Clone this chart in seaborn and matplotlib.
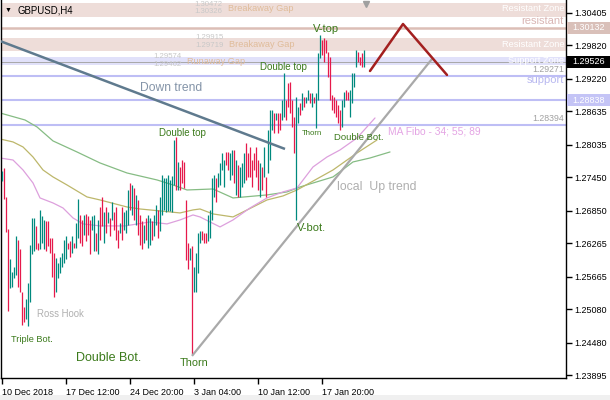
import numpy as np
import matplotlib
matplotlib.use("Agg")
import matplotlib.pyplot as plt
import matplotlib.transforms as mtransforms
from matplotlib.patches import Rectangle
import seaborn as sns

# GBPUSD H4 bars (high, low, 1 = up bar)
highs = [
    1.2757, 1.2761, 1.2710, 1.2653, 1.2598, 1.2576, 1.2585, 1.2639, 1.2633, 1.2616,
    1.2539, 1.2512, 1.2526, 1.2556, 1.2624, 1.2673, 1.2673, 1.2657, 1.2628, 1.2687,
    1.2675, 1.2669, 1.2666, 1.2666, 1.2637, 1.2637, 1.2610, 1.2601, 1.2592, 1.2603,
    1.2610, 1.2633, 1.2639, 1.2628, 1.2630, 1.2639, 1.2628, 1.2664, 1.2707, 1.2678,
    1.2669, 1.2678, 1.2680, 1.2675, 1.2669, 1.2675, 1.2678, 1.2646, 1.2669, 1.2692,
    1.2709, 1.2682, 1.2692, 1.2682, 1.2673, 1.2700, 1.2682, 1.2692, 1.2651, 1.2664,
    1.2692, 1.2682, 1.2687, 1.2723, 1.2735, 1.2732, 1.2726, 1.2714, 1.2705, 1.2678,
    1.2666, 1.2660, 1.2673, 1.2678, 1.2673, 1.2666, 1.2678, 1.2696, 1.2687, 1.2709,
    1.2750, 1.2744, 1.2744, 1.2750, 1.2741, 1.2748, 1.2812, 1.2818, 1.2773, 1.2764,
    1.2777, 1.2773, 1.2705, 1.2628, 1.2619, 1.2621, 1.2585, 1.2610, 1.2646, 1.2648,
    1.2648, 1.2646, 1.2646, 1.2678, 1.2687, 1.2744, 1.2750, 1.2744, 1.2753, 1.2771,
    1.2789, 1.2777, 1.2791, 1.2791, 1.2789, 1.2794, 1.2794, 1.2777, 1.2768, 1.2764,
    1.2771, 1.2789, 1.2807, 1.2789, 1.2800, 1.2777, 1.2789, 1.2800, 1.2777, 1.2771,
    1.2764, 1.2800, 1.2746, 1.2830, 1.2866, 1.2866, 1.2861, 1.2861, 1.2861, 1.2861,
    1.2884, 1.2932, 1.2884, 1.2914, 1.2916, 1.2884, 1.2854, 1.2889, 1.2871, 1.2879,
    1.2896, 1.2889, 1.2889, 1.2902, 1.2896, 1.2896, 1.2889, 1.2896, 1.2968, 1.3000,
    1.2991, 1.2995, 1.2991, 1.2970, 1.2961, 1.2893, 1.2889, 1.2884, 1.2875, 1.2866,
    1.2884, 1.2898, 1.2902, 1.2898, 1.2902, 1.2932, 1.2932, 1.2974, 1.2970, 1.2961,
    1.2968, 1.2974,
]
lows = [
    1.2739, 1.2707, 1.2647, 1.2506, 1.2546, 1.2549, 1.2564, 1.2569, 1.2549, 1.2539,
    1.2481, 1.2485, 1.2490, 1.2478, 1.2521, 1.2607, 1.2612, 1.2616, 1.2614, 1.2616,
    1.2628, 1.2616, 1.2612, 1.2621, 1.2610, 1.2567, 1.2531, 1.2539, 1.2565, 1.2574,
    1.2585, 1.2592, 1.2598, 1.2616, 1.2603, 1.2610, 1.2619, 1.2619, 1.2637, 1.2628,
    1.2621, 1.2642, 1.2630, 1.2642, 1.2607, 1.2651, 1.2612, 1.2612, 1.2607, 1.2633,
    1.2657, 1.2628, 1.2646, 1.2664, 1.2639, 1.2669, 1.2651, 1.2633, 1.2619, 1.2646,
    1.2633, 1.2651, 1.2646, 1.2660, 1.2687, 1.2678, 1.2669, 1.2660, 1.2642, 1.2624,
    1.2616, 1.2628, 1.2633, 1.2619, 1.2624, 1.2633, 1.2639, 1.2660, 1.2637, 1.2648,
    1.2678, 1.2687, 1.2682, 1.2684, 1.2684, 1.2682, 1.2732, 1.2723, 1.2723, 1.2723,
    1.2735, 1.2726, 1.2597, 1.2580, 1.2597, 1.2428, 1.2539, 1.2539, 1.2574, 1.2628,
    1.2633, 1.2628, 1.2628, 1.2630, 1.2637, 1.2669, 1.2710, 1.2700, 1.2728, 1.2732,
    1.2759, 1.2728, 1.2768, 1.2759, 1.2741, 1.2750, 1.2735, 1.2714, 1.2710, 1.2710,
    1.2728, 1.2735, 1.2741, 1.2746, 1.2746, 1.2728, 1.2759, 1.2746, 1.2723, 1.2710,
    1.2723, 1.2746, 1.2710, 1.2753, 1.2777, 1.2830, 1.2825, 1.2848, 1.2825, 1.2830,
    1.2848, 1.2854, 1.2848, 1.2871, 1.2861, 1.2836, 1.2789, 1.2669, 1.2843, 1.2857,
    1.2866, 1.2871, 1.2879, 1.2884, 1.2879, 1.2871, 1.2879, 1.2834, 1.2884, 1.2959,
    1.2965, 1.2952, 1.2968, 1.2925, 1.2884, 1.2866, 1.2861, 1.2854, 1.2843, 1.2830,
    1.2836, 1.2871, 1.2884, 1.2884, 1.2854, 1.2879, 1.2907, 1.2943, 1.2952, 1.2947,
    1.2943, 1.2943,
]
up_bar = [
    1, 0, 0, 0, 1, 1, 1, 1, 0, 0, 0, 0, 1, 1, 1, 1, 1, 0, 0, 1,
    1, 1, 0, 0, 0, 0, 0, 1, 1, 1, 1, 1, 1, 0, 0, 1, 0, 1, 1, 0,
    0, 1, 0, 0, 0, 1, 1, 0, 1, 0, 0, 1, 0, 1, 0, 1, 0, 0, 0, 1,
    0, 1, 1, 1, 0, 1, 0, 1, 0, 0, 0, 1, 0, 1, 1, 0, 1, 1, 0, 1,
    1, 1, 1, 1, 1, 1, 1, 0, 1, 0, 0, 0, 0, 0, 1, 0, 1, 1, 1, 1,
    0, 0, 0, 1, 1, 1, 1, 0, 1, 1, 1, 1, 0, 0, 1, 1, 0, 1, 0, 1,
    1, 1, 0, 0, 0, 0, 0, 0, 0, 1, 0, 1, 0, 1, 1, 1, 0, 1, 0, 0,
    1, 1, 0, 0, 0, 0, 0, 1, 1, 0, 1, 0, 1, 1, 0, 1, 0, 1, 1, 1,
    0, 0, 0, 0, 0, 0, 0, 0, 0, 0, 1, 1, 0, 0, 1, 1, 1, 1, 0, 0,
    0, 1,
]

x_ticks = [0, 32, 64, 96, 128, 160]
x_labels = ["10 Dec 2018", "17 Dec 12:00", "24 Dec 20:00", "3 Jan 04:00",
            "10 Jan 12:00", "17 Jan 20:00"]
y_ticks = [1.30405, 1.29820, 1.29220, 1.28635, 1.28035, 1.27450,
           1.26850, 1.26265, 1.25665, 1.25080, 1.24480, 1.23895]

# MA Fibo 34 / 55 / 89 (bar index, price) as seen on the chart
ma34_x = [-1, 5.5, 10.5, 15.5, 19, 25.5, 30.5, 35.5, 40.5, 49, 61.5, 74, 82.5, 89,
          95.5, 99, 109, 115.5, 124, 132.5, 140.5, 147.5, 155.5, 162.5, 169, 177.5, 186.5]
ma34 = [1.27798, 1.27762, 1.27583, 1.27350, 1.27081, 1.26991, 1.26901, 1.26722, 1.26615,
        1.26579, 1.26579, 1.26650, 1.26615, 1.26686, 1.26776, 1.26740, 1.26561, 1.26686,
        1.26901, 1.27081, 1.27189, 1.27260, 1.27637, 1.27816, 1.27942, 1.28157, 1.28516]
ma55_x = [-1, 5.5, 10.5, 15.5, 20.5, 25.5, 32.5, 42.5, 49, 62.5, 69, 79, 89, 95.5, 99,
          105.5, 115.5, 125.5, 132.5, 140.5, 147.5, 165.5, 177.5, 187.5]
ma55 = [1.28139, 1.28086, 1.27996, 1.27816, 1.27583, 1.27458, 1.27314, 1.27099, 1.27045,
        1.26919, 1.26883, 1.26848, 1.26812, 1.26866, 1.26883, 1.26794, 1.26740, 1.26919,
        1.27045, 1.27117, 1.27224, 1.27583, 1.27888, 1.28121]
ma89_x = [-1, 11.5, 17.5, 25.5, 37.5, 49, 62.5, 77.5, 85.5, 92.5, 105.5, 115.5, 132.5,
          142.5, 149, 165.5, 175.5, 184, 194]
ma89 = [1.28606, 1.28480, 1.28355, 1.28104, 1.27906, 1.27709, 1.27529, 1.27404, 1.27314,
        1.27224, 1.27242, 1.27081, 1.27135, 1.27189, 1.27278, 1.27458, 1.27727, 1.27798,
        1.27906]

# drawn objects (bar index, price)
down_trend_x = [-1, 141.5]
down_trend_y = [1.29897, 1.27960]
up_trend_x = [95, 215]
up_trend_y = [1.24246, 1.29575]
arrow_x = [184, 200.5, 222.5]
arrow_y = [1.29359, 1.30202, 1.29288]

resist_zone_1 = (1.30326, 1.30575)
resist_zone_2 = (1.29719, 1.29950)
support_zone = (1.29462, 1.29605)
resistant_level = 1.30132
support_levels = [1.29271, 1.28838, 1.28394]
last_price = 1.29526

UP_COL = "#00897E"
DOWN_COL = "#E6194B"
PAT_COL = "#3B7A1B"
PINK_ZONE = "#EEDDD9"
LAV_ZONE = "#E1E1FA"
PINK_LINE = "#DCBEB6"
LAV_LINE = "#BEBEF5"

sns.set_style("white")
plt.rcParams["font.family"] = ["Liberation Sans", "DejaVu Sans"]

fig = plt.figure(figsize=(6.1, 4), dpi=100)
ax = fig.add_axes([1 / 610, 22 / 400, 565 / 610, 378 / 400])
Y_TOP, Y_BOT = 1.30633, 1.23850
PX = (Y_TOP - Y_BOT) / 378


def at(px, py):
    # screen pixel of the reference -> (bar index, price)
    return (px - 2) / 2, Y_TOP - py * PX


# zones and levels
ax.axhspan(*resist_zone_1, color=PINK_ZONE, lw=0, zorder=0)
ax.axhspan(*resist_zone_2, color=PINK_ZONE, lw=0, zorder=0)
ax.axhspan(*support_zone, color=LAV_ZONE, lw=0, zorder=0)
ax.axhline(resistant_level, color=PINK_LINE, lw=1.8, zorder=1)
for lvl in support_levels:
    ax.axhline(lvl, color=LAV_LINE, lw=1.5, zorder=1)
ax.axhline(last_price, color="#A8A8A8", lw=0.7, zorder=1)

# moving averages
for xs, ys, col in [(ma89_x, ma89, "#86BC84"), (ma55_x, ma55, "#BDB76B"), (ma34_x, ma34, "#DDA0DD")]:
    sns.lineplot(x=xs, y=ys, ax=ax, color=col, linewidth=0.9, sort=False, zorder=2)

# bars
idx = np.arange(len(highs))
bar_cols = [UP_COL if u else DOWN_COL for u in up_bar]
ax.vlines(idx, lows, highs, colors=bar_cols, lw=0.9, zorder=3)

# trend lines
ax.plot(down_trend_x, down_trend_y, color="#5F7A8E", lw=1.8, zorder=4, solid_capstyle="butt")
ax.plot(up_trend_x, up_trend_y, color="#A9A9A9", lw=1.6, zorder=4, solid_capstyle="butt")
ax.plot(arrow_x, arrow_y, color="#A31F1F", lw=1.8, zorder=4)
ax.plot(*at(366, 4), marker="v", color="#A0A0A0", ms=5, clip_on=False, zorder=5)

ax.set_xlim(-0.5, 282)
ax.set_ylim(Y_BOT, Y_TOP)


def label(txt, px, py, size, color, ha="left"):
    ax.text(*at(px, py), txt, fontsize=size, color=color, ha=ha, va="center", zorder=6)


label("\u25bc", 5, 10, 5, "black")
label("GBPUSD,H4", 17, 10, 6.9, "black")
label("Breakaway Gap", 228, 8, 6.6, "#E0BC9A")
label("Breakaway Gap", 229, 44, 6.6, "#E0BC9A")
label("Runaway Gap", 187, 61, 6.6, "#E0BC9A")
label("Resistant Zone", 564, 8, 6.7, "white", "right")
label("Resistant Zone", 564, 44, 6.7, "white", "right")
label("Support Zone", 564, 60, 6.7, "white", "right")
label("resistant", 564, 21, 8, "#D9B6B4", "right")
label("support", 564, 80, 8, "#B8B8F0", "right")
label("1.29271", 564, 69, 6.3, "#A0A0A0", "right")
label("1.28394", 564, 118, 6.3, "#A0A0A0", "right")
label("1.30472", 222, 4, 5.6, "#C8C8C8", "right")
label("1.30326", 222, 11, 5.6, "#C8C8C8", "right")
label("1.29915", 224, 37, 5.6, "#C8C8C8", "right")
label("1.29719", 224, 45, 5.6, "#C8C8C8", "right")
label("1.29574", 182, 56, 5.6, "#C8C8C8", "right")
label("1.29462", 182, 64, 5.6, "#C8C8C8", "right")
label("Down trend", 140, 88, 8.7, "#8494A8")
label("Double top", 159, 133, 7, PAT_COL)
label("Double top", 260, 67, 7, PAT_COL)
label("V-top", 313, 29, 8, PAT_COL)
label("Thorn", 302, 133, 5.6, PAT_COL)
label("Double Bot.", 334, 138, 6.8, PAT_COL)
label("MA Fibo - 34; 55; 89", 388, 131, 7.4, "#E4A4E4")
label("local  Up trend", 337, 187, 8.8, "#AFAFAF")
label("V-bot.", 297, 228, 8, PAT_COL)
label("Ross Hook", 37, 314, 6.9, "#B0B0B0")
label("Triple Bot.", 11, 339, 6.6, PAT_COL)
label("Double Bot.", 76, 358, 9, PAT_COL)
label("Thorn", 180, 363, 7.8, PAT_COL)

# axes styling
for side in ["left", "bottom", "right"]:
    ax.spines[side].set_color("black")
    ax.spines[side].set_linewidth(1)
ax.spines["top"].set_visible(False)
ax.yaxis.tick_right()
ax.set_yticks(y_ticks)
ax.set_yticklabels([f"{v:.5f}" for v in y_ticks])
ax.tick_params(axis="y", right=True, left=False, direction="out", length=4, width=1,
               pad=2, labelsize=6.5, colors="black")
ax.set_xticks(x_ticks)
ax.set_xticklabels(x_labels, ha="left")
ax.tick_params(axis="x", bottom=True, direction="out", length=4, width=1, pad=3,
               labelsize=6.5, colors="black")
ax.set_xlabel("")
ax.set_ylabel("")

# price tags on the right scale
tag_tr = mtransforms.blended_transform_factory(fig.transFigure, ax.transData)
for price, fc in [(resistant_level, "#D9C0B9"), (last_price, "black"), (support_levels[1], "#C4C4F6")]:
    fig.add_artist(Rectangle((567 / 610, price - 6 * PX), 43 / 610, 12 * PX, transform=tag_tr,
                             fc=fc, ec="none", zorder=5))
    fig.text(572 / 610, price, f"{price:.5f}", transform=tag_tr, color="white",
             fontsize=6.5, va="center", ha="left", zorder=6)

fig.add_artist(Rectangle((0, 0), 1, 5 / 400, transform=fig.transFigure, fc="#F0F0F0", ec="none"))

fig.savefig("out.png", dpi=100)
